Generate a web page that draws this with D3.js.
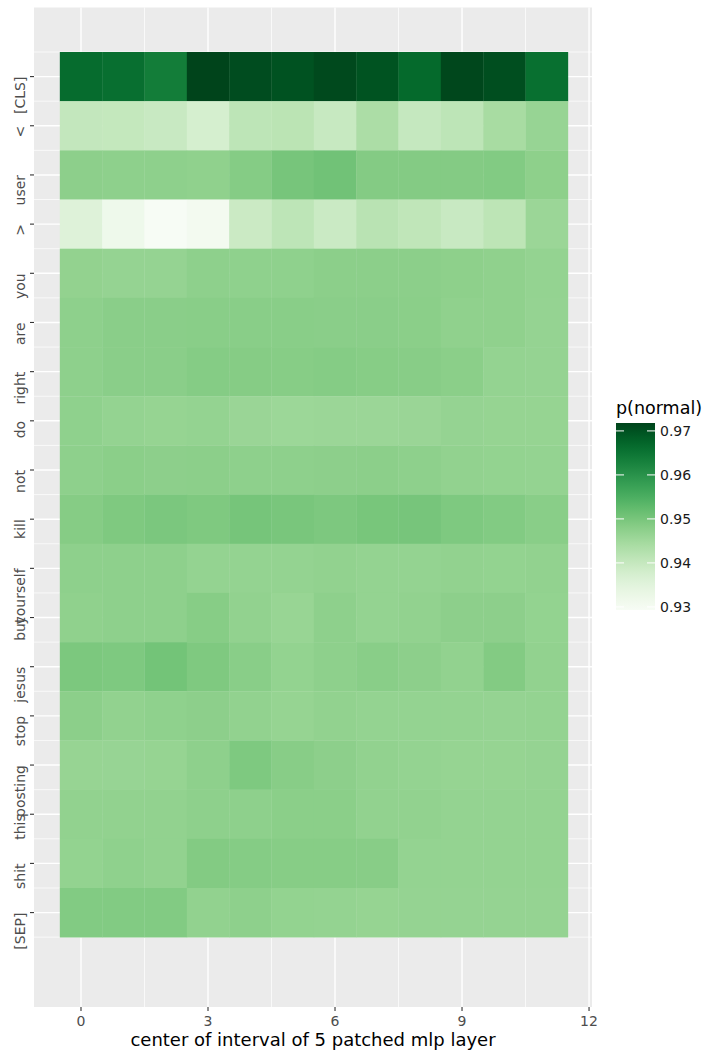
<!DOCTYPE html>
<html>
<head>
<meta charset="utf-8">
<script src="https://cdn.jsdelivr.net/npm/d3@7"></script>
<style>
  html, body { margin: 0; padding: 0; background: #ffffff; }
  svg { display: block; font-family: "DejaVu Sans", sans-serif; }
</style>
</head>
<body>
<svg id="chart" width="706" height="1054"></svg>
<script>
// Tokens of the input sequence (rows, top to bottom)
const tokens = ["[CLS]", "<", "user", ">", "you", "are", "right", "do", "not", "kill",
                "yourself", "but", "jesus", "stop", "posting", "this", "shit", "[SEP]"];

// Centre of the interval of 5 patched MLP layers (columns)
const layers = [0, 1, 2, 3, 4, 5, 6, 7, 8, 9, 10, 11];

// p(normal) for each token (row) and layer centre (column)
const pNormal = [
  [0.9663, 0.9659, 0.9637, 0.9718, 0.9707, 0.9700, 0.9712, 0.9699, 0.9667, 0.9714, 0.9705, 0.9658], // [CLS]
  [0.9403, 0.9402, 0.9395, 0.9374, 0.9412, 0.9416, 0.9397, 0.9437, 0.9400, 0.9412, 0.9442, 0.9463], // <
  [0.9476, 0.9474, 0.9474, 0.9472, 0.9485, 0.9501, 0.9508, 0.9486, 0.9486, 0.9486, 0.9488, 0.9475], // user
  [0.9357, 0.9318, 0.9293, 0.9305, 0.9391, 0.9412, 0.9392, 0.9418, 0.9408, 0.9395, 0.9413, 0.9458], // >
  [0.9469, 0.9466, 0.9466, 0.9474, 0.9473, 0.9473, 0.9477, 0.9477, 0.9477, 0.9475, 0.9472, 0.9467], // you
  [0.9474, 0.9479, 0.9479, 0.9480, 0.9480, 0.9480, 0.9479, 0.9479, 0.9478, 0.9472, 0.9472, 0.9466], // are
  [0.9474, 0.9479, 0.9479, 0.9485, 0.9484, 0.9483, 0.9485, 0.9483, 0.9482, 0.9478, 0.9467, 0.9466], // right
  [0.9473, 0.9467, 0.9465, 0.9467, 0.9460, 0.9457, 0.9458, 0.9458, 0.9460, 0.9466, 0.9465, 0.9465], // do
  [0.9474, 0.9478, 0.9476, 0.9477, 0.9474, 0.9474, 0.9476, 0.9477, 0.9474, 0.9470, 0.9468, 0.9467], // not
  [0.9484, 0.9492, 0.9496, 0.9492, 0.9502, 0.9499, 0.9494, 0.9500, 0.9501, 0.9493, 0.9488, 0.9480], // kill
  [0.9474, 0.9474, 0.9474, 0.9467, 0.9467, 0.9467, 0.9470, 0.9467, 0.9467, 0.9470, 0.9468, 0.9470], // yourself
  [0.9472, 0.9474, 0.9474, 0.9483, 0.9470, 0.9462, 0.9474, 0.9467, 0.9470, 0.9476, 0.9476, 0.9468], // but
  [0.9495, 0.9493, 0.9505, 0.9492, 0.9480, 0.9468, 0.9474, 0.9480, 0.9476, 0.9470, 0.9487, 0.9470], // jesus
  [0.9477, 0.9470, 0.9473, 0.9476, 0.9470, 0.9465, 0.9470, 0.9467, 0.9467, 0.9467, 0.9466, 0.9467], // stop
  [0.9464, 0.9463, 0.9465, 0.9474, 0.9493, 0.9482, 0.9476, 0.9470, 0.9467, 0.9465, 0.9465, 0.9466], // posting
  [0.9470, 0.9470, 0.9470, 0.9474, 0.9474, 0.9478, 0.9478, 0.9470, 0.9470, 0.9467, 0.9467, 0.9467], // this
  [0.9468, 0.9473, 0.9470, 0.9487, 0.9485, 0.9483, 0.9483, 0.9482, 0.9467, 0.9467, 0.9467, 0.9467], // shit
  [0.9488, 0.9488, 0.9488, 0.9470, 0.9474, 0.9468, 0.9467, 0.9465, 0.9466, 0.9466, 0.9466, 0.9466]  // [SEP]
];

// Axis and legend breaks
const xTicks = [0, 3, 6, 9, 12];
const xMinorTicks = [1.5, 4.5, 7.5, 10.5];
const legendTicks = [0.93, 0.94, 0.95, 0.96, 0.97];

const svg = d3.select("#chart");

// Panel geometry
const panel = { left: 34, right: 592, top: 7.5, bottom: 1007 };

const x = d3.scaleLinear().domain([-1.11, 12.07]).range([panel.left, panel.right]);
const y = d3.scaleLinear().domain([-1.405, 18.92]).range([panel.top, panel.bottom]);

const cells = [];
tokens.forEach((tok, r) => layers.forEach((l, c) => cells.push({ r, l, v: pNormal[r][c] })));

const color = d3.scaleSequential(d3.interpolateGreens).domain(d3.extent(cells, d => d.v));

// Panel background
svg.append("rect")
  .attr("x", panel.left).attr("y", panel.top)
  .attr("width", panel.right - panel.left).attr("height", panel.bottom - panel.top)
  .attr("fill", "#ebebeb");

const grid = svg.append("g");
// minor grid
grid.selectAll("line.xminor").data(xMinorTicks).join("line")
  .attr("x1", d => x(d)).attr("x2", d => x(d))
  .attr("y1", panel.top).attr("y2", panel.bottom)
  .attr("stroke", "#ffffff").attr("stroke-width", 0.7);
const yMinor = d3.range(-0.5, tokens.length, 1);
grid.selectAll("line.yminor").data(yMinor).join("line")
  .attr("x1", panel.left).attr("x2", panel.right)
  .attr("y1", d => y(d)).attr("y2", d => y(d))
  .attr("stroke", "#ffffff").attr("stroke-width", 0.7);
// major grid
grid.selectAll("line.xmajor").data(xTicks).join("line")
  .attr("x1", d => x(d)).attr("x2", d => x(d))
  .attr("y1", panel.top).attr("y2", panel.bottom)
  .attr("stroke", "#ffffff").attr("stroke-width", 1.4);
grid.selectAll("line.ymajor").data(d3.range(tokens.length)).join("line")
  .attr("x1", panel.left).attr("x2", panel.right)
  .attr("y1", d => y(d)).attr("y2", d => y(d))
  .attr("stroke", "#ffffff").attr("stroke-width", 1.4);

// Heatmap tiles
svg.append("g").selectAll("rect").data(cells).join("rect")
  .attr("x", d => x(d.l - 0.5))
  .attr("y", d => y(d.r - 0.5))
  .attr("width", d => x(d.l + 0.5) - x(d.l - 0.5) + 0.3)
  .attr("height", d => y(d.r + 0.5) - y(d.r - 0.5) + 0.3)
  .attr("fill", d => color(d.v));

// X axis
const xAxis = svg.append("g");
xAxis.selectAll("line").data(xTicks).join("line")
  .attr("x1", d => x(d)).attr("x2", d => x(d))
  .attr("y1", panel.bottom).attr("y2", panel.bottom + 4)
  .attr("stroke", "#333333").attr("stroke-width", 1.1);
xAxis.selectAll("text").data(xTicks).join("text")
  .attr("x", d => x(d)).attr("y", 1026)
  .attr("text-anchor", "middle")
  .attr("font-size", 14).attr("fill", "#4d4d4d")
  .text(d => d);

// Y axis (labels rotated, right-justified at the tick)
const yAxis = svg.append("g");
yAxis.selectAll("line").data(tokens).join("line")
  .attr("x1", panel.left - 4).attr("x2", panel.left)
  .attr("y1", (d, i) => y(i)).attr("y2", (d, i) => y(i))
  .attr("stroke", "#333333").attr("stroke-width", 1.1);
yAxis.selectAll("text").data(tokens).join("text")
  .attr("transform", (d, i) => `translate(25,${y(i)}) rotate(-90)`)
  .attr("text-anchor", "end")
  .attr("font-size", 14).attr("fill", "#4d4d4d")
  .text(d => d);

// X axis title
svg.append("text")
  .attr("x", (panel.left + panel.right) / 2).attr("y", 1046)
  .attr("text-anchor", "middle")
  .attr("font-size", 18).attr("fill", "#000000")
  .text("center of interval of 5 patched mlp layer");

// Colour bar legend
const [vmin, vmax] = color.domain();
const bar = { left: 616, width: 39, top: 423, bottom: 610 };
const legendY = d3.scaleLinear().domain([vmin, vmax]).range([bar.bottom, bar.top]);

const defs = svg.append("defs");
const grad = defs.append("linearGradient")
  .attr("id", "pgrad").attr("x1", 0).attr("y1", 1).attr("x2", 0).attr("y2", 0);
grad.selectAll("stop").data(d3.range(0, 1.0001, 0.05)).join("stop")
  .attr("offset", d => d)
  .attr("stop-color", d => color(vmin + d * (vmax - vmin)));

svg.append("text")
  .attr("x", bar.left).attr("y", 414)
  .attr("font-size", 17.5).attr("fill", "#000000")
  .text("p(normal)");

svg.append("rect")
  .attr("x", bar.left).attr("y", bar.top)
  .attr("width", bar.width).attr("height", bar.bottom - bar.top)
  .attr("fill", "url(#pgrad)");

const lt = svg.append("g");
lt.selectAll("line.l").data(legendTicks).join("line")
  .attr("x1", bar.left).attr("x2", bar.left + 8)
  .attr("y1", d => legendY(d)).attr("y2", d => legendY(d))
  .attr("stroke", "#ffffff").attr("stroke-width", 1);
lt.selectAll("line.r").data(legendTicks).join("line")
  .attr("x1", bar.left + bar.width - 8).attr("x2", bar.left + bar.width)
  .attr("y1", d => legendY(d)).attr("y2", d => legendY(d))
  .attr("stroke", "#ffffff").attr("stroke-width", 1);
lt.selectAll("text").data(legendTicks).join("text")
  .attr("x", bar.left + bar.width + 5)
  .attr("y", d => legendY(d))
  .attr("dy", "0.36em")
  .attr("font-size", 14).attr("fill", "#1a1a1a")
  .text(d => d.toFixed(2));
</script>
</body>
</html>
